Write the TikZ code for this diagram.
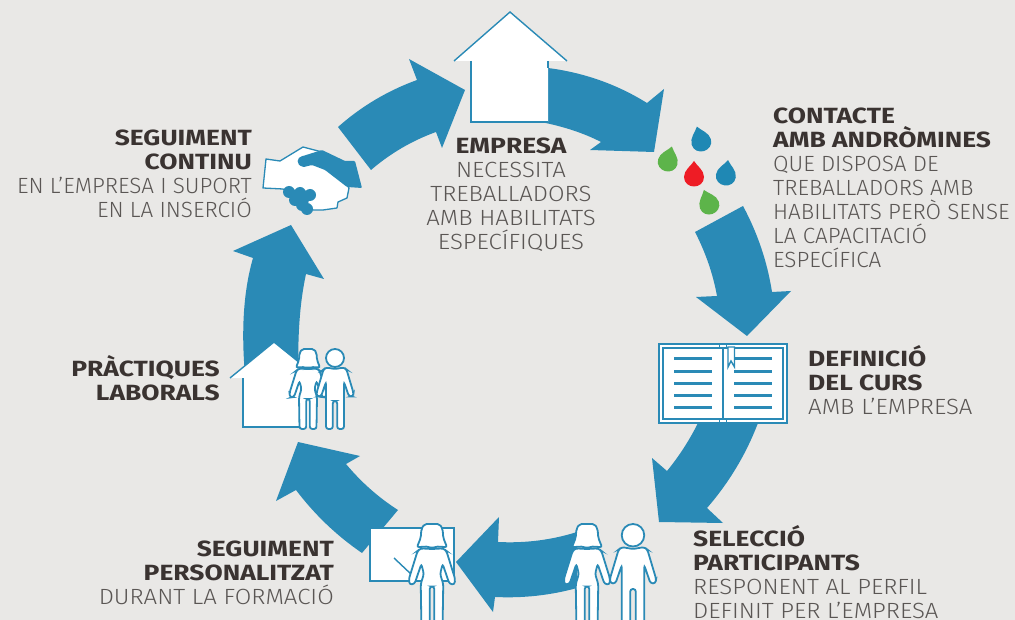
\documentclass[tikz,border=0pt]{standalone}
\usepackage{fontspec}
\usetikzlibrary{calc}
\setmainfont{Fira Sans Light}[RawFeature={extend=1.02}]
\newfontfamily\boldfam{Fira Sans Bold}[FakeStretch=1.2]
\newfontfamily\widefam{Fira Sans Light}[FakeStretch=1.09]
\definecolor{bgc}{HTML}{E9E8E6}
\definecolor{blu}{HTML}{2A8AB6}
\definecolor{drp}{HTML}{1F88B4}
\definecolor{grn}{HTML}{5DB44A}
\definecolor{rdd}{HTML}{EE1C25}
\definecolor{dk}{HTML}{3A3331}
\definecolor{lt}{HTML}{5A5654}
\newcommand\fl{\rule{0pt}{16pt}}
\newcommand\hd[1]{{\boldfam\color{dk}#1}}
\newcommand\qto[3]{.. controls ($(#1)!.6667!(#2)$) and ($(#3)!.6667!(#2)$) .. (#3)}
\newcommand\dropshape[4]{%
 \fill[#1,shift={(#2,#3)},rotate=#4] (0,-15) .. controls (3,-10) and (10,-6) .. (10,1) .. controls (10,7) and (5,10.5) .. (0,10.5) .. controls (-5,10.5) and (-10,7) .. (-10,1) .. controls (-10,-6) and (-3,-10) .. (0,-15) -- cycle;}
\newcommand\girlfig[3]{%
 \begin{scope}[shift={(#1,#2)},scale=#3]
 \draw[fig] (0,20) -- (9,19.5) -- (11.5,21.5) -- (18.5,44) -- (18,48.5) -- (14,48) -- (8.5,32) -- (6.5,40) -- (9,48) -- (8.5,80) -- (1.8,80) -- (1.8,50) -- (-1.8,50) -- (-1.8,80) -- (-8.5,80) -- (-9,48) -- (-6.5,40) -- (-8.5,32) -- (-14,48) -- (-18,48.5) -- (-18.5,44) -- (-11.5,21.5) -- (-9,19.5) -- cycle;
 \draw[figh] (0,0) -- (6,0) -- (8.5,4) -- (9,11) -- (12,18.5) -- (3,18) -- (0,19.5) -- (-3,18) -- (-12,18.5) -- (-9,11) -- (-8.5,4) -- (-6,0) -- cycle;
 \end{scope}}
\newcommand\boyfig[3]{%
 \begin{scope}[shift={(#1,#2)},scale=#3]
 \draw[fig] (0,20) -- (9,18.5) -- (11.5,20.5) -- (18.5,44) -- (18,47.5) -- (14,47.5) -- (9,33) -- (9,80) -- (2.2,80) -- (2.2,52) -- (-2.2,52) -- (-2.2,80) -- (-9,80) -- (-9,33) -- (-14,47.5) -- (-18,47.5) -- (-18.5,44) -- (-11.5,20.5) -- (-9,18.5) -- cycle;
 \draw[figl] (0,9) circle (9);
 \end{scope}}
\tikzset{
 arrowfill/.style={fill=blu,draw=none},
 fig/.style={draw=blu,fill=white,line width=1.8pt,rounded corners=2.5pt},
 figh/.style={draw=blu,fill=white,line width=1.8pt,rounded corners=2pt},
 figl/.style={draw=blu,fill=white,line width=1.8pt},
 txt/.style={inner sep=0pt,text=lt,font=\fontsize{22}{24}\selectfont},
 txtr/.style={txt,anchor=north east,align=right},
 txtl/.style={txt,anchor=north west,align=left},
 txtc/.style={txt,anchor=north,align=center},
 outl/.style={draw=blu,line width=1.4pt,line join=miter},
 bookl/.style={draw=blu,line width=3pt}
}
\begin{document}
\begin{tikzpicture}[x=1pt,y=-1pt]
\path[use as bounding box,fill=bgc] (0,0) rectangle (1015,620);
\clip (0,0) rectangle (1015,620);
% arrows
\fill[arrowfill] (338,127) \qto{338,127}{373,96}{417,80} -- (409,59) -- (465,90) -- (442,148) -- (436,132) \qto{436,132}{400,145}{371,170} -- cycle;
\fill[arrowfill] (530,65) -- (548,68) \qto{548,68}{602,75}{647,103} -- (664,89) -- (654,152) -- (590,150) -- (601,142) \qto{601,142}{572,127}{530,120} -- cycle;
\fill[arrowfill] (743,206) \qto{743,206}{765,247}{772,292} -- (791,291) -- (747,336) -- (696,297) -- (717,296) \qto{717,296}{711,263}{695,232} -- cycle;
\fill[arrowfill] (758,423) \qto{758,423}{740,470}{707,508} -- (723,523) -- (659,522) -- (652,458) -- (667,471) \qto{667,471}{685,449}{698,423} -- cycle;
\fill[arrowfill] (577,532) \qto{577,532}{539,544}{498,542} -- (499,517) -- (456,562) -- (493,612) -- (495,597) \qto{495,597}{537,599}{577,588} -- cycle;
\fill[arrowfill] (362,553) \qto{362,553}{324,527}{296,490} -- (276,501) -- (298,442) -- (360,456) -- (346,464) \qto{346,464}{369,491.5}{398,510} -- cycle;
\fill[arrowfill] (246,385) \qto{246,385}{238,310}{253,258} -- (233,251) -- (291,225) -- (324,279) -- (306,274) \qto{306,274}{296,320}{299,385} -- cycle;
% big house
\fill[white] (510,12) -- (567,61) -- (548,61) -- (548,122) -- (471,122) -- (471,61) -- (454,61) -- cycle;
\draw[outl] (454,61) -- (510,12) -- (567,61);
\draw[outl] (471,61) -- (471,122) -- (548,122);
\draw[outl] (548,61) -- (548,68);
% handshake
\fill[white,draw=blu,line width=1.3pt,line join=round] (266,159) -- (280,161) -- (303,147) -- (322,152) -- (349,188) -- (347,198) -- (338,202) -- (337,208) -- (323,210) -- (313,210) -- (283,189) -- (263,188) -- cycle;
\fill[blu,rounded corners=1pt] (322,150) -- (345,161) -- (355,161) -- (362,188) -- (347,187) -- (325,170) -- (312,165) -- (304,167) .. controls (295,165) and (297,157) .. (303,156) -- cycle;
\fill[blu] (289,192) circle (6) (300,193) circle (6) (310,195) circle (6) (295,200) circle (6) (302,205) circle (6) (307,209) circle (6);
\fill[blu] (289,192) -- (310,195) -- (307,209) -- (295,200) -- cycle;
% drops
\dropshape{drp}{701}{141}{16}
\dropshape{grn}{668}{161}{-15}
\dropshape{rdd}{694}{176}{0}
\dropshape{drp}{726}{175}{-8}
\dropshape{grn}{709}{204}{20}
% book
\fill[white] (659,344) rectangle (787,423);
\draw[draw=blu,line width=1.6pt] (659,344) rectangle (787,423);
\draw[draw=blu,line width=1.6pt] (663,348) rectangle (783,419);
\draw[draw=blu,line width=1.6pt] (723,348) -- (723,419);
\draw[draw=blu,line width=1.2pt,fill=white] (719.5,344) rectangle (726.5,348);
\draw[draw=blu,line width=1.2pt,fill=white] (719.5,419) rectangle (726.5,423);
\foreach \yy in {359,371,383,395,407} {
 \draw[bookl] (674,\yy) -- (712,\yy);
 \draw[bookl] (734,\yy) -- (772,\yy);
}
\fill[white,draw=blu,line width=1.4pt] (728,347) -- (734.5,347) -- (734.5,367) -- (731,361) -- (728,367) -- cycle;
% practice house
\fill[white] (274,342) -- (318,378) -- (318,427) -- (243,427) -- (243,378) -- (230,378) -- cycle;
\draw[outl] (230,378) -- (274,342) -- (300,363);
\draw[outl] (243,378) -- (243,427) -- (300,427);
\girlfig{308}{349}{1}
\boyfig{335}{349}{1}
% board
\fill[white,draw=blu,line width=1.4pt] (370,528) rectangle (454,581);
\draw[blu,line width=1.4pt] (394,558) -- (412,575);
\girlfig{432}{524}{1.25}
% participants
\girlfig{587}{524}{1.25}
\boyfig{633}{524}{1.25}
% texts
\node[txtc] (empresa) at (511,137) {\fl\hd{EMPRESA}\\\widefam NECESSITA\\\widefam TREBALLADORS\\\widefam AMB HABILITATS\\\widefam ESPECÍFIQUES};
\node[txtl] (contacte) at (773,107) {\fl\hd{CONTACTE}\\\hd{AMB ANDRÒMINES}\\QUE DISPOSA DE\\TREBALLADORS AMB\\HABILITATS PERÒ SENSE\\LA CAPACITACIÓ\\ESPECÍFICA};
\node[txtl] (definicio) at (808,345.5) {\fl\hd{DEFINICIÓ}\\\hd{DEL CURS}\\\widefam AMB L’EMPRESA};
\node[txtl] (seleccio) at (693,525) {\fl\hd{SELECCIÓ}\\\hd{PARTICIPANTS}\\\widefam RESPONENT AL PERFIL\\\widefam DEFINIT PER L’EMPRESA};
\node[txtr] (personal) at (334,540) {\fl\hd{SEGUIMENT}\\\hd{PERSONALITZAT}\\\widefam DURANT LA FORMACIÓ};
\node[txtr] (practiques) at (220,355.5) {\fl\hd{PRÀCTIQUES}\\\hd{LABORALS}};
\node[txtr] (seguiment) at (252,129) {\fl\hd{SEGUIMENT}\\\hd{CONTINU}\\EN L’EMPRESA I SUPORT\\EN LA INSERCIÓ};
\end{tikzpicture}
\end{document}
